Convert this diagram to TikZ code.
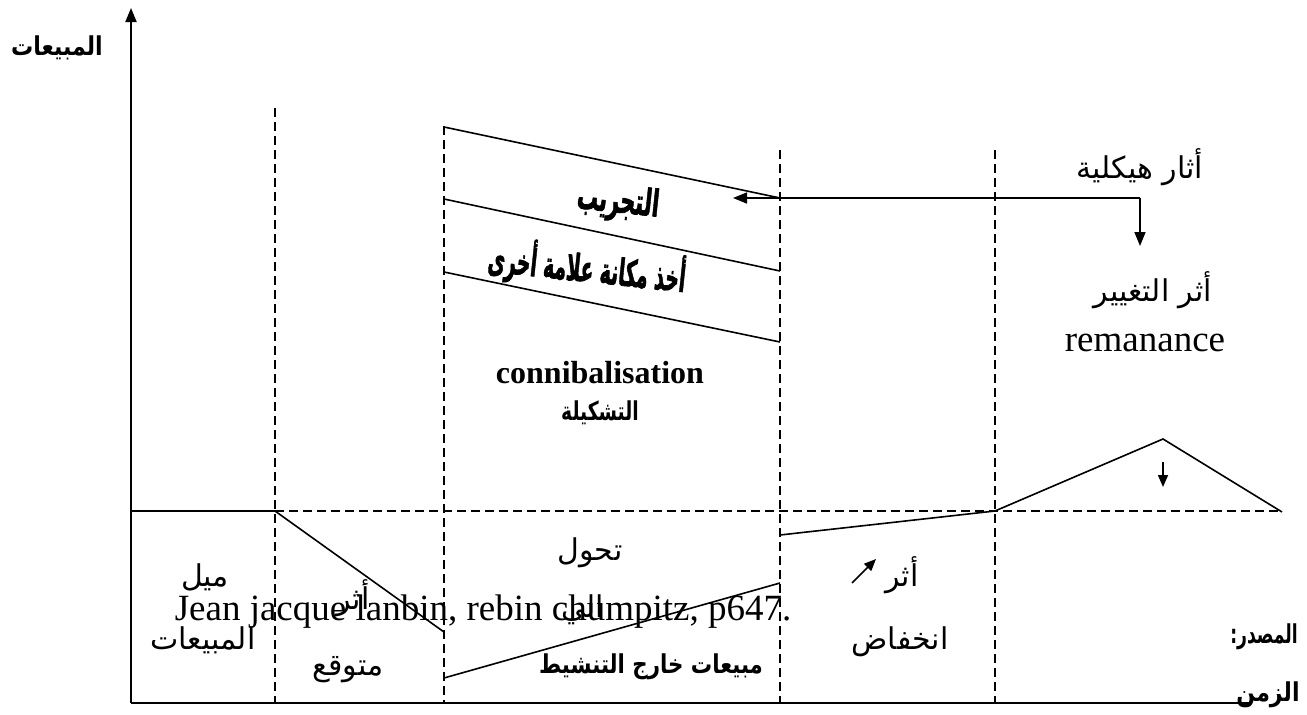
\documentclass[tikz,border=0pt]{standalone}
\usepackage{fontspec}
\setmainfont{Liberation Serif}
\newfontfamily\arabicfont[Script=Arabic]{DejaVu Sans}
\newfontfamily\arabicheavy[Script=Arabic,BoldFont={DejaVu Sans Bold},BoldFeatures={FakeBold=2}]{DejaVu Sans}
\TeXXeTstate=1
\usetikzlibrary{arrows.meta}

\tikzset{
  axis/.style={line width=2pt},
  curve/.style={line width=1.6pt},
  guide/.style={line width=1.5pt, dash pattern=on 9pt off 5pt},
  tip/.style={-{Triangle[length=14pt,width=11pt]}},
  smalltip/.style={-{Triangle[length=12pt,width=10pt]}},
  lbl/.style={inner sep=0pt, anchor=center},
  ar/.style={lbl, font=\arabicfont\fontsize{30}{34}\selectfont},
  arbold/.style={lbl, font=\arabicfont\bfseries\fontsize{26}{30}\selectfont},
  arheavy/.style={lbl, font=\arabicheavy\bfseries\fontsize{37}{40}\selectfont},
  lat/.style={lbl, font=\fontsize{37}{42}\selectfont},
  latbold/.style={lbl, font=\bfseries\fontsize{32}{36}\selectfont},
}

\begin{document}
\begin{tikzpicture}[x=1pt, y=-1pt]
\useasboundingbox (0,0) rectangle (1307,715);

% axes
\coordinate (O) at (131,703);
\coordinate (ytop) at (131,8);
\coordinate (xend) at (1250,703);
\draw[axis, tip] (O) -- (ytop);
\draw[axis] (O) -- (xend);

% dashed phase boundaries
\draw[guide] (275,108) -- (275,703);
\draw[guide] (444,126) -- (444,703);
\draw[guide] (780,150) -- (780,703);
\draw[guide] (995,150) -- (995,703);
% dashed baseline level
\draw[guide] (275,511) -- (1282,511);

% sales curve
\draw[curve] (131,511) -- (275,511) -- (444,632);
\draw[curve] (444,678) -- (780,583);
\draw[curve] (780,535) -- (995,511) -- (1163,439) -- (1282,512);
\draw[curve, smalltip] (1163,462) -- (1163,487);

% sloping bands
\draw[curve] (444,127) -- (780,198);
\draw[curve] (444,199) -- (780,271);
\draw[curve] (444,272) -- (780,342);

% structural effects arrows
\coordinate (corner) at (1140,198);
\coordinate (leftend) at (733,198);
\coordinate (downend) at (1140,246);
\draw[curve, tip] (corner) -- (leftend);
\draw[curve, tip] (corner) -- (downend);

% small rising arrow
\coordinate (ra) at (852,583);
\coordinate (rb) at (876,559);
\draw[curve, smalltip] (ra) -- (rb);

% labels
\node[arbold, xscale=0.85] (ylab) at (57,48) {\beginR المبيعات\endR};
\node[arheavy, rotate=-6, xscale=0.57] (t1) at (618,203) {\beginR التجريب\endR};
\node[arheavy, rotate=-6, xscale=0.51] (t2) at (587,268) {\beginR أخذ مكانة علامة أخرى\endR};
\node[latbold] (cann) at (600,373) {connibalisation};
\node[arbold, xscale=0.72] (tash) at (600,413) {\beginR التشكيلة\endR};
\node[ar] (hayk) at (1140,167) {\beginR أثار هيكلية\endR};
\node[ar] (taghy) at (1153,290) {\beginR أثر التغيير\endR};
\node[lat] (rem) at (1145,343) {remanance};

\node[ar] (mayl) at (205,577) {\beginR ميل\endR};
\node[ar] (mab) at (203,640) {\beginR المبيعات\endR};
\node[ar] (athar1) at (353,598) {\beginR أثر\endR};
\node[ar] (mutaw) at (348,670) {\beginR متوقع\endR};
\node[ar] (tahw) at (590,553) {\beginR تحول\endR};
\node[ar] (ali) at (583,610) {\beginR الي\endR};
\node[arbold, xscale=0.82] (outs) at (651,667) {\beginR مبيعات خارج التنشيط\endR};
\node[ar] (athar2) at (902,575) {\beginR أثر\endR};
\node[ar] (inkh) at (900,642) {\beginR انخفاض\endR};

\node[lat] (src) at (483,612) {Jean jacque lanbin, rebin chumpitz, p647.};
\node[arbold, xscale=0.66] (masd) at (1264,637) {\beginR المصدر:\endR};
\node[arbold, xscale=0.85] (zaman) at (1268,695) {\beginR الزمن\endR};
\end{tikzpicture}
\end{document}
